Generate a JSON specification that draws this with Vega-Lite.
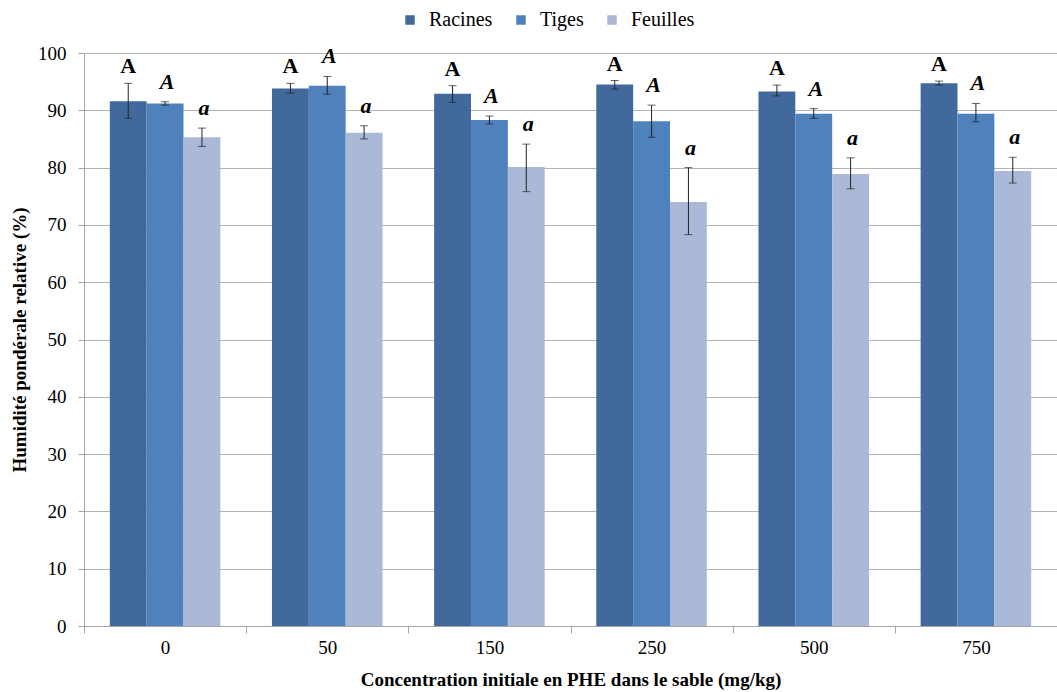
{
  "$schema": "https://vega.github.io/schema/vega-lite/v6.json",
  "autosize": "none",
  "width": 973,
  "height": 573,
  "padding": {"left": 84, "top": 53, "right": 0, "bottom": 66},
  "background": "white",
  "config": {
    "font": "Liberation Serif",
    "view": {"stroke": null},
    "axis": {"labelFont": "Liberation Serif", "titleFont": "Liberation Serif", "labelColor": "#000", "titleColor": "#000"},
    "legend": {"labelFont": "Liberation Serif"},
    "text": {"font": "Liberation Serif"}
  },
  "data": {"values": [
    {"c": "0", "s": "Racines", "v": 91.6, "lo": 88.6, "hi": 94.7, "lab": "A"},
    {"c": "0", "s": "Tiges", "v": 91.2, "lo": 90.9, "hi": 91.5, "lab": "A"},
    {"c": "0", "s": "Feuilles", "v": 85.3, "lo": 83.7, "hi": 86.9, "lab": "a"},
    {"c": "50", "s": "Racines", "v": 93.8, "lo": 93.0, "hi": 94.7, "lab": "A"},
    {"c": "50", "s": "Tiges", "v": 94.3, "lo": 92.8, "hi": 95.9, "lab": "A"},
    {"c": "50", "s": "Feuilles", "v": 86.1, "lo": 85.0, "hi": 87.3, "lab": "a"},
    {"c": "150", "s": "Racines", "v": 92.9, "lo": 91.4, "hi": 94.3, "lab": "A"},
    {"c": "150", "s": "Tiges", "v": 88.3, "lo": 87.6, "hi": 89.0, "lab": "A"},
    {"c": "150", "s": "Feuilles", "v": 80.1, "lo": 75.8, "hi": 84.1, "lab": "a"},
    {"c": "250", "s": "Racines", "v": 94.5, "lo": 93.7, "hi": 95.2, "lab": "A"},
    {"c": "250", "s": "Tiges", "v": 88.1, "lo": 85.3, "hi": 90.9, "lab": "A"},
    {"c": "250", "s": "Feuilles", "v": 74.0, "lo": 68.3, "hi": 80.0, "lab": "a"},
    {"c": "500", "s": "Racines", "v": 93.3, "lo": 92.5, "hi": 94.4, "lab": "A"},
    {"c": "500", "s": "Tiges", "v": 89.4, "lo": 88.6, "hi": 90.3, "lab": "A"},
    {"c": "500", "s": "Feuilles", "v": 78.9, "lo": 76.3, "hi": 81.7, "lab": "a"},
    {"c": "750", "s": "Racines", "v": 94.7, "lo": 94.4, "hi": 95.1, "lab": "A"},
    {"c": "750", "s": "Tiges", "v": 89.4, "lo": 88.0, "hi": 91.2, "lab": "A"},
    {"c": "750", "s": "Feuilles", "v": 79.4, "lo": 77.3, "hi": 81.8, "lab": "a"}
  ]},
  "encoding": {
    "x": {
      "field": "c", "type": "ordinal",
      "sort": ["0", "50", "150", "250", "500", "750"],
      "scale": {"paddingInner": 0, "paddingOuter": 0},
      "axis": {
        "title": "Concentration initiale en PHE dans le sable (mg/kg)",
        "titleFont": "Liberation Serif",
        "titleFontSize": 19, "titleFontWeight": "bold",
        "titleBaseline": "alphabetic", "titleY": 59,
        "labelFont": "Liberation Serif",
        "labelAngle": 0, "labelFontSize": 19, "labelPadding": 5,
        "tickBand": "extent", "tickSize": 7, "tickColor": "#A6A6A6",
        "domainColor": "#A6A6A6", "grid": false
      }
    },
    "xOffset": {
      "field": "s", "type": "nominal",
      "sort": ["Racines", "Tiges", "Feuilles"],
      "scale": {"paddingInner": 0, "paddingOuter": 0.7}
    }
  },
  "layer": [
    {
      "mark": {"type": "bar"},
      "encoding": {
        "y": {
          "field": "v", "type": "quantitative",
          "scale": {"domain": [0, 100], "nice": false},
          "axis": {
            "title": "Humidité pondérale relative (%)",
            "titleFont": "Liberation Serif",
            "titleFontSize": 19, "titleFontWeight": "bold",
            "titleBaseline": "alphabetic", "titleX": -59,
            "values": [0, 10, 20, 30, 40, 50, 60, 70, 80, 90, 100],
            "labelFont": "Liberation Serif",
            "labelFontSize": 19, "labelPadding": 12,
            "tickSize": 6, "tickColor": "#A6A6A6",
            "domainColor": "#A6A6A6",
            "grid": true, "gridColor": "#B4B4B4"
          }
        },
        "color": {
          "field": "s", "type": "nominal",
          "scale": {"domain": ["Racines", "Tiges", "Feuilles"], "range": ["#41699B", "#4F81BD", "#AAB9D7"]},
          "legend": {
            "title": null, "orient": "none", "direction": "horizontal",
            "legendX": 316, "legendY": -43,
            "symbolType": "square", "symbolSize": 90, "symbolStrokeWidth": 0,
            "labelFont": "Liberation Serif", "labelFontSize": 20, "labelColor": "#000",
            "labelOffset": 9, "columnPadding": 18
          }
        }
      }
    },
    {
      "mark": {"type": "rule", "color": "#222", "strokeWidth": 1},
      "encoding": {
        "y": {"field": "lo", "type": "quantitative"},
        "y2": {"field": "hi"}
      }
    },
    {
      "mark": {"type": "tick", "color": "#222", "thickness": 1, "size": 8},
      "encoding": {"y": {"field": "lo", "type": "quantitative"}}
    },
    {
      "mark": {"type": "tick", "color": "#222", "thickness": 1, "size": 8},
      "encoding": {"y": {"field": "hi", "type": "quantitative"}}
    },
    {
      "transform": [{"filter": "datum.s === 'Racines'"}],
      "mark": {"type": "text", "font": "Liberation Serif", "fontSize": 22, "fontWeight": "bold", "baseline": "alphabetic", "dy": -10, "color": "#000"},
      "encoding": {"y": {"field": "hi", "type": "quantitative"}, "text": {"field": "lab"}}
    },
    {
      "transform": [{"filter": "datum.s !== 'Racines'"}],
      "mark": {"type": "text", "font": "Liberation Serif", "fontSize": 22, "fontWeight": "bold", "fontStyle": "italic", "baseline": "alphabetic", "dy": -13, "dx": 2, "color": "#000"},
      "encoding": {"y": {"field": "hi", "type": "quantitative"}, "text": {"field": "lab"}}
    }
  ]
}
